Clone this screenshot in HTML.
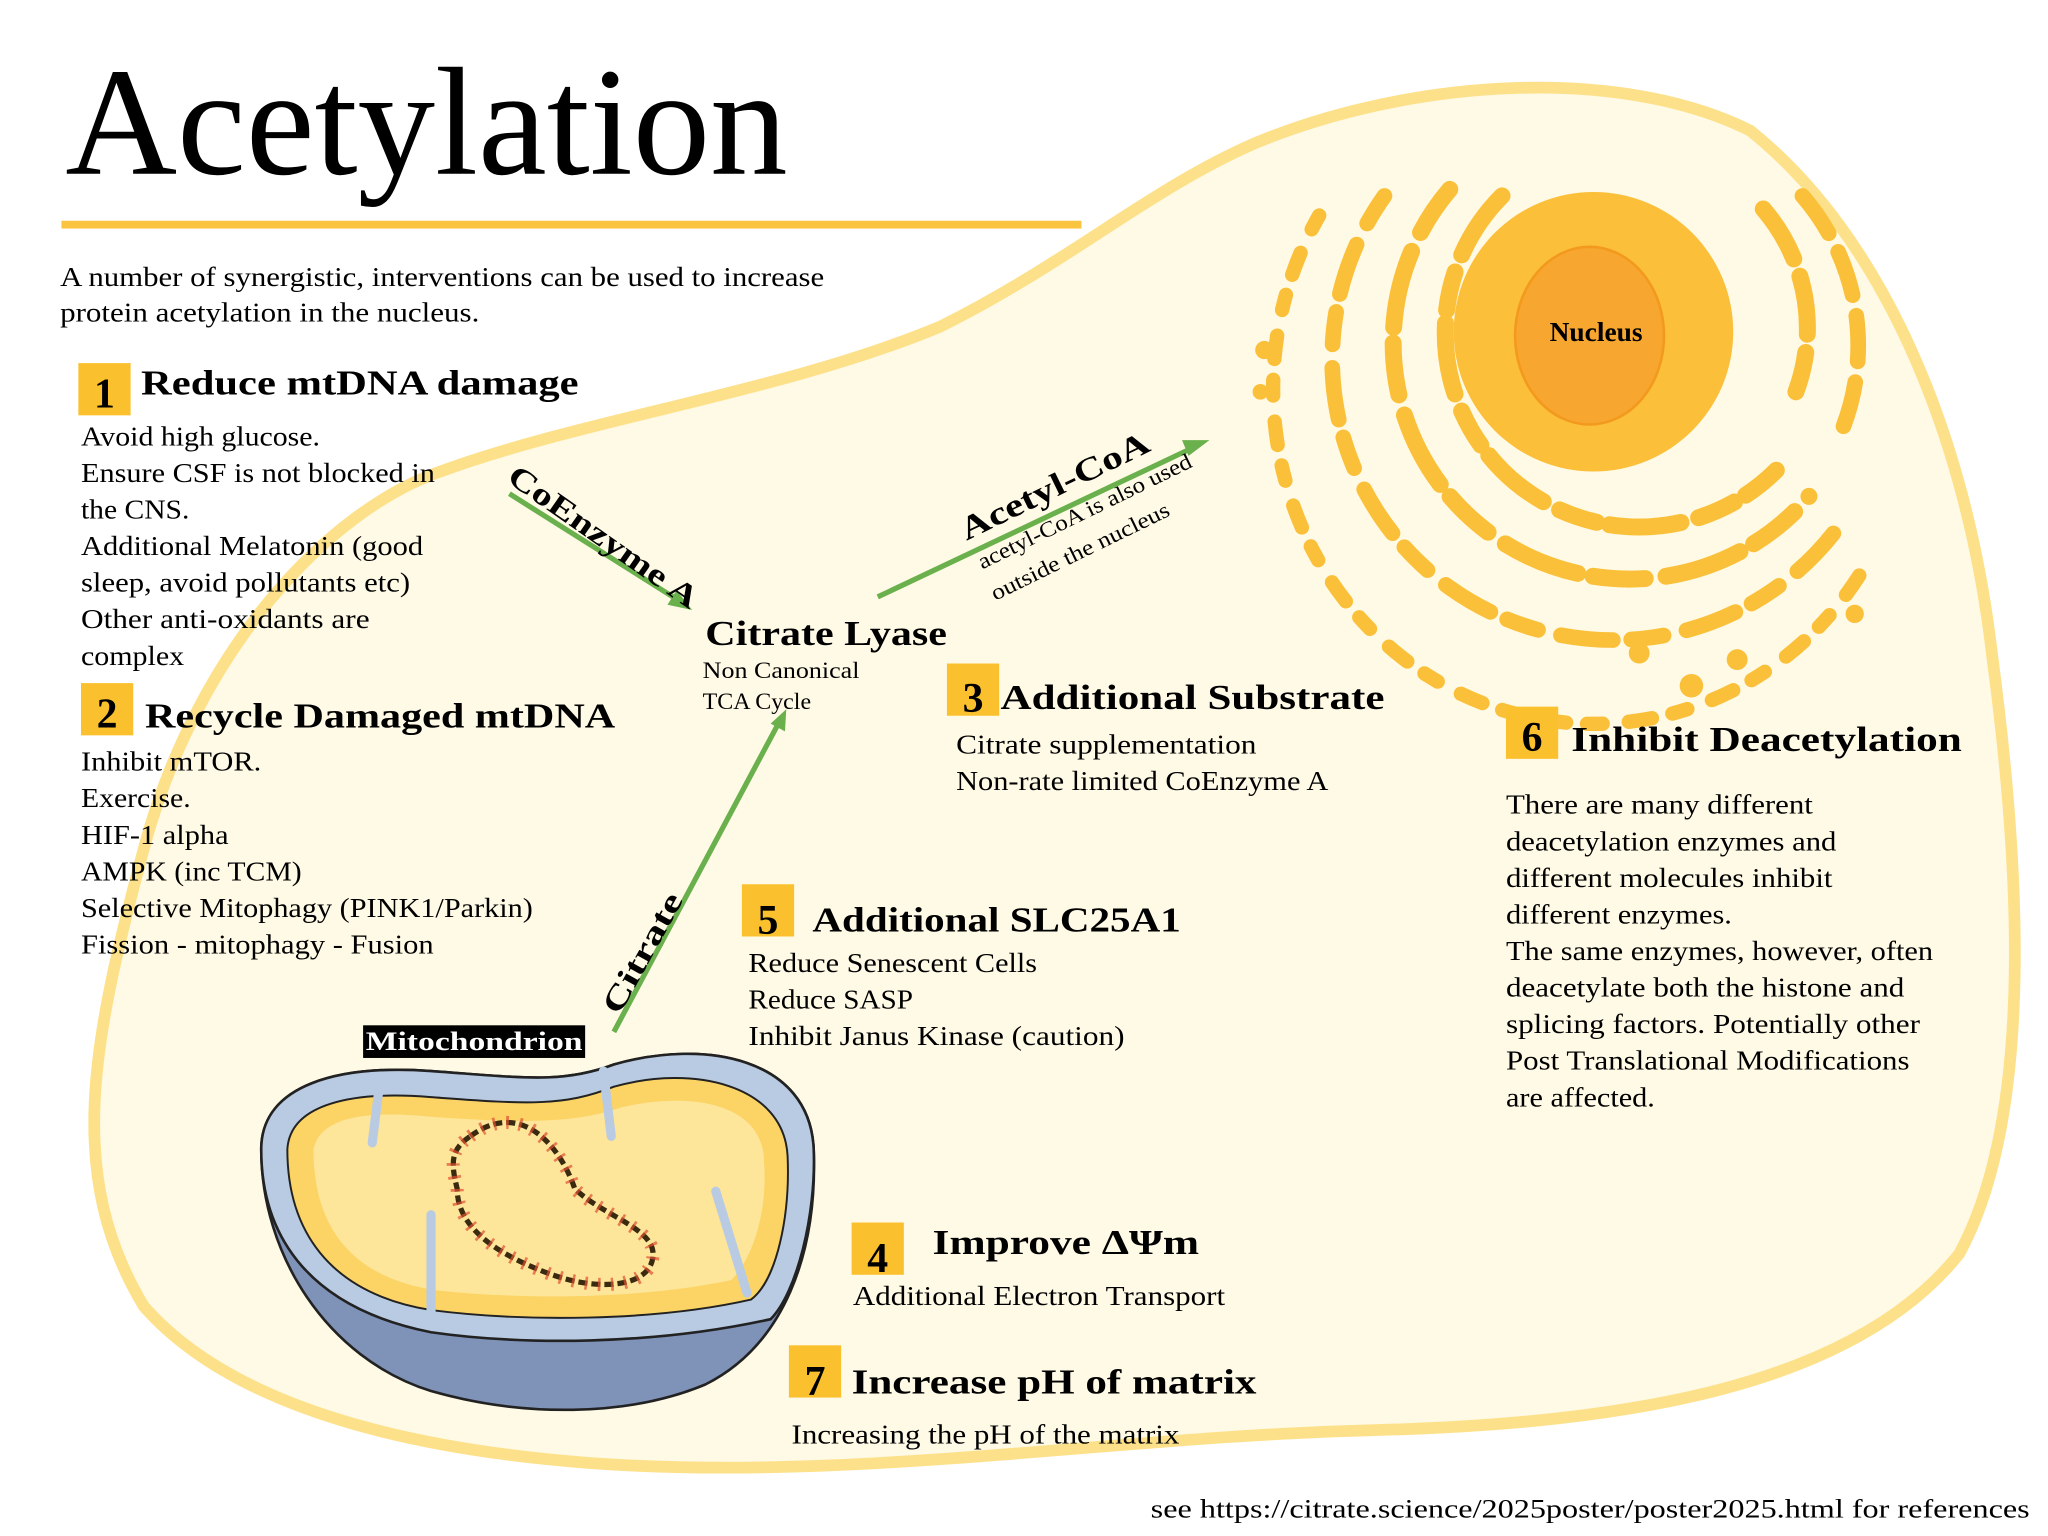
<!DOCTYPE html>
<html><head><meta charset="utf-8"><style>html,body{margin:0;padding:0;background:#fff}svg{display:block}</style></head>
<body>
<svg xmlns="http://www.w3.org/2000/svg" width="2048" height="1536" viewBox="0 0 1568 1176" font-family="'Liberation Serif', serif">
<rect width="1568" height="1176" fill="#fff"/>
<!-- cell -->
<path d="M340,360 C250,390 150,500 110,650 C70,800 50,900 110,1000 C180,1080 320,1110 450,1120 C650,1135 850,1100 1050,1095 C1250,1090 1420,1060 1500,960 C1560,850 1545,650 1525,500 C1505,330 1440,180 1340,100 C1240,50 1080,60 960,110 C880,145 820,200 720,250 C600,300 450,320 340,360 Z" fill="#fffae6" stroke="#fde18a" stroke-width="9"/>
<!-- ER -->
<g fill="none" stroke="#fbc03a" stroke-linecap="round">
<path d="M1150,150 A140,140 0 1 0 1360,360" stroke-width="13" stroke-dasharray="55 14 30 10"/>
<path d="M1110,145 A170,170 0 1 0 1385,380" stroke-width="13" stroke-dasharray="40 16 60 12"/>
<path d="M1060,150 A200,200 0 1 0 1410,400" stroke-width="12" stroke-dasharray="25 18 40 14"/>
<path d="M1010,165 A215,225 0 1 0 1430,430" stroke-width="11" stroke-dasharray="12 20 18 16"/>
<path d="M1350,160 A140,140 0 0 1 1375,300" stroke-width="13" stroke-dasharray="45 14"/>
<path d="M1380,150 A175,175 0 0 1 1410,330" stroke-width="12" stroke-dasharray="35 16"/>
</g>
<g fill="#fbc03a"><circle cx="1295" cy="525" r="9"/><circle cx="1330" cy="505" r="8"/><circle cx="1255" cy="500" r="8"/><circle cx="968" cy="268" r="7"/><circle cx="965" cy="300" r="6"/><circle cx="1420" cy="470" r="7"/></g>
<!-- nucleus -->
<circle cx="1220" cy="254" r="107" fill="#fbbf3a"/>
<ellipse cx="1217" cy="257" rx="57" ry="68" fill="#f7a72f" stroke="#f39a1e" stroke-width="2"/>
<text x="1222" y="261" font-size="21" font-weight="bold" text-anchor="middle">Nucleus</text>
<!-- title -->
<text x="50" y="133" font-size="118" textLength="553" lengthAdjust="spacingAndGlyphs">Acetylation</text>
<rect x="47" y="169" width="781" height="6" fill="#fbc440"/>
<g font-size="21">
<text x="46" y="219" textLength="585" lengthAdjust="spacingAndGlyphs">A number of synergistic, interventions can be used to increase</text>
<text x="46" y="246" textLength="321" lengthAdjust="spacingAndGlyphs">protein acetylation in the nucleus.</text>
</g>
<!-- arrows -->
<g stroke="#6ab04c" stroke-width="4" fill="#6ab04c">
<line x1="390" y1="378" x2="520" y2="460"/><polygon points="530,467 511,463 518,452" stroke="none"/>
<line x1="672" y1="457" x2="915" y2="342"/><polygon points="926,337 910,349 905,337" stroke="none"/>
<line x1="470" y1="790" x2="597" y2="552"/><polygon points="602,543 601,560 590,554" stroke="none"/>
</g>
<text transform="translate(387,368) rotate(35)" font-size="24" font-weight="bold" textLength="172" lengthAdjust="spacingAndGlyphs">CoEnzyme A</text>
<text transform="translate(740,414) rotate(-26)" font-size="25" font-weight="bold" textLength="158" lengthAdjust="spacingAndGlyphs">Acetyl-CoA</text>
<text transform="translate(752,436) rotate(-26)" font-size="17" textLength="180" lengthAdjust="spacingAndGlyphs">acetyl-CoA is also used</text>
<text transform="translate(762,460) rotate(-26)" font-size="17" textLength="150" lengthAdjust="spacingAndGlyphs">outside the nucleus</text>
<text transform="translate(474,778) rotate(-61)" font-size="24" font-weight="bold" textLength="102" lengthAdjust="spacingAndGlyphs">Citrate</text>
<!-- mitochondrion -->
<path d="M200,880 C200,830 260,815 330,820 C400,825 430,830 470,815 C540,795 620,810 623,880 C626,960 600,1030 540,1060 C480,1085 400,1085 330,1065 C250,1040 200,960 200,880 Z" fill="#7f92b7" stroke="#222" stroke-width="2"/>
<path d="M200,880 C200,830 260,815 330,820 C400,825 430,830 470,815 C540,795 620,810 623,880 C625,930 610,990 590,1010 C500,1030 400,1030 330,1020 C230,1000 200,940 200,880 Z" fill="#b9cbe3" stroke="#222" stroke-width="2"/>
<path d="M220,880 C222,845 270,835 330,840 C400,845 430,848 470,832 C530,815 600,830 603,885 C605,930 595,980 575,995 C500,1012 400,1012 330,1003 C250,990 220,940 220,880 Z" fill="#fcd465" stroke="#222" stroke-width="1.5"/>
<path d="M240,880 C245,855 280,850 330,855 C400,860 440,860 475,848 C530,835 585,845 585,890 C588,930 575,965 560,980 C490,995 400,995 335,988 C265,978 240,935 240,880 Z" fill="#fde59a"/>
<g stroke="#b9cbe3" stroke-width="7" fill="none" stroke-linecap="round"><path d="M290,835 L285,875"/><path d="M462,820 L468,870"/><path d="M330,1005 L330,930"/><path d="M548,912 L572,990"/></g>
<path d="M360,870 C400,840 430,880 440,910 C460,930 500,940 500,960 C500,985 460,990 420,975 C380,960 350,940 350,910 C345,890 345,880 360,870 Z" fill="none" stroke="#3a2a10" stroke-width="4" stroke-dasharray="7 3"/>
<path d="M360,870 C400,840 430,880 440,910 C460,930 500,940 500,960 C500,985 460,990 420,975 C380,960 350,940 350,910 C345,890 345,880 360,870 Z" fill="none" stroke="#e05030" stroke-width="10" stroke-dasharray="2 8" opacity="0.7"/>
<rect x="278" y="785" width="170" height="25" fill="#000"/>
<text x="280" y="804" font-size="20" font-weight="bold" fill="#fff" textLength="166" lengthAdjust="spacingAndGlyphs">Mitochondrion</text>
<!-- badges -->
<g fill="#fbc02d">
<rect x="60" y="278" width="40" height="40"/><rect x="62" y="523" width="40" height="40"/>
<rect x="725" y="508" width="40" height="40"/><rect x="1153" y="541" width="40" height="40"/>
<rect x="568" y="677" width="40" height="40"/><rect x="652" y="936" width="40" height="40"/>
<rect x="604" y="1030" width="40" height="40"/>
</g>
<g font-size="32" font-weight="bold" text-anchor="middle">
<text x="80" y="312">1</text><text x="82" y="557">2</text><text x="745" y="545">3</text>
<text x="1173" y="575">6</text><text x="588" y="715">5</text><text x="672" y="974">4</text><text x="624" y="1068">7</text>
</g>
<g font-size="27" font-weight="bold">
<text x="108" y="302" textLength="335" lengthAdjust="spacingAndGlyphs">Reduce mtDNA damage</text>
<text x="111" y="557" textLength="360" lengthAdjust="spacingAndGlyphs">Recycle Damaged mtDNA</text>
<text x="540" y="494" textLength="185" lengthAdjust="spacingAndGlyphs">Citrate Lyase</text>
<text x="766" y="543" textLength="294" lengthAdjust="spacingAndGlyphs">Additional Substrate</text>
<text x="1203" y="575" textLength="299" lengthAdjust="spacingAndGlyphs">Inhibit Deacetylation</text>
<text x="622" y="713" textLength="282" lengthAdjust="spacingAndGlyphs">Additional SLC25A1</text>
<text x="714" y="960" textLength="204" lengthAdjust="spacingAndGlyphs">Improve ΔΨm</text>
<text x="652" y="1067" textLength="310" lengthAdjust="spacingAndGlyphs">Increase pH of matrix</text>
</g>
<g font-size="18"><text x="538" y="519" textLength="120" lengthAdjust="spacingAndGlyphs">Non Canonical</text><text x="538" y="543" textLength="83" lengthAdjust="spacingAndGlyphs">TCA Cycle</text></g>
<g font-size="21">
<text x="62" y="341" textLength="183" lengthAdjust="spacingAndGlyphs">Avoid high glucose.</text>
<text x="62" y="369" textLength="271" lengthAdjust="spacingAndGlyphs">Ensure CSF is not blocked in</text>
<text x="62" y="397" textLength="83" lengthAdjust="spacingAndGlyphs">the CNS.</text>
<text x="62" y="425" textLength="262" lengthAdjust="spacingAndGlyphs">Additional Melatonin (good</text>
<text x="62" y="453" textLength="252" lengthAdjust="spacingAndGlyphs">sleep, avoid pollutants etc)</text>
<text x="62" y="481" textLength="221" lengthAdjust="spacingAndGlyphs">Other anti-oxidants are</text>
<text x="62" y="509" textLength="79" lengthAdjust="spacingAndGlyphs">complex</text>
<text x="62" y="590" textLength="138" lengthAdjust="spacingAndGlyphs">Inhibit mTOR.</text>
<text x="62" y="618" textLength="84" lengthAdjust="spacingAndGlyphs">Exercise.</text>
<text x="62" y="646" textLength="113" lengthAdjust="spacingAndGlyphs">HIF-1 alpha</text>
<text x="62" y="674" textLength="169" lengthAdjust="spacingAndGlyphs">AMPK  (inc TCM)</text>
<text x="62" y="702" textLength="346" lengthAdjust="spacingAndGlyphs">Selective Mitophagy (PINK1/Parkin)</text>
<text x="62" y="730" textLength="270" lengthAdjust="spacingAndGlyphs">Fission - mitophagy - Fusion</text>
<text x="732" y="577" textLength="230" lengthAdjust="spacingAndGlyphs">Citrate supplementation</text>
<text x="732" y="605" textLength="285" lengthAdjust="spacingAndGlyphs">Non-rate limited CoEnzyme A</text>
<text x="573" y="744" textLength="221" lengthAdjust="spacingAndGlyphs">Reduce Senescent Cells</text>
<text x="573" y="772" textLength="126" lengthAdjust="spacingAndGlyphs">Reduce SASP</text>
<text x="573" y="800" textLength="288" lengthAdjust="spacingAndGlyphs">Inhibit Janus Kinase (caution)</text>
<text x="653" y="999" textLength="285" lengthAdjust="spacingAndGlyphs">Additional Electron Transport</text>
<text x="606" y="1105" textLength="297" lengthAdjust="spacingAndGlyphs">Increasing the pH of the matrix</text>
<text x="1153" y="623" textLength="235" lengthAdjust="spacingAndGlyphs">There are many different</text>
<text x="1153" y="651" textLength="253" lengthAdjust="spacingAndGlyphs">deacetylation enzymes and</text>
<text x="1153" y="679" textLength="250" lengthAdjust="spacingAndGlyphs">different molecules inhibit</text>
<text x="1153" y="707" textLength="173" lengthAdjust="spacingAndGlyphs">different enzymes.</text>
<text x="1153" y="735" textLength="327" lengthAdjust="spacingAndGlyphs">The same enzymes, however, often</text>
<text x="1153" y="763" textLength="305" lengthAdjust="spacingAndGlyphs">deacetylate both the histone and</text>
<text x="1153" y="791" textLength="317" lengthAdjust="spacingAndGlyphs">splicing factors.  Potentially other</text>
<text x="1153" y="819" textLength="309" lengthAdjust="spacingAndGlyphs">Post Translational Modifications</text>
<text x="1153" y="847" textLength="114" lengthAdjust="spacingAndGlyphs">are affected.</text>
</g>
<text x="881" y="1162" font-size="20" textLength="673" lengthAdjust="spacingAndGlyphs">see https://citrate.science/2025poster/poster2025.html  for references</text>
</svg>
</body></html>
